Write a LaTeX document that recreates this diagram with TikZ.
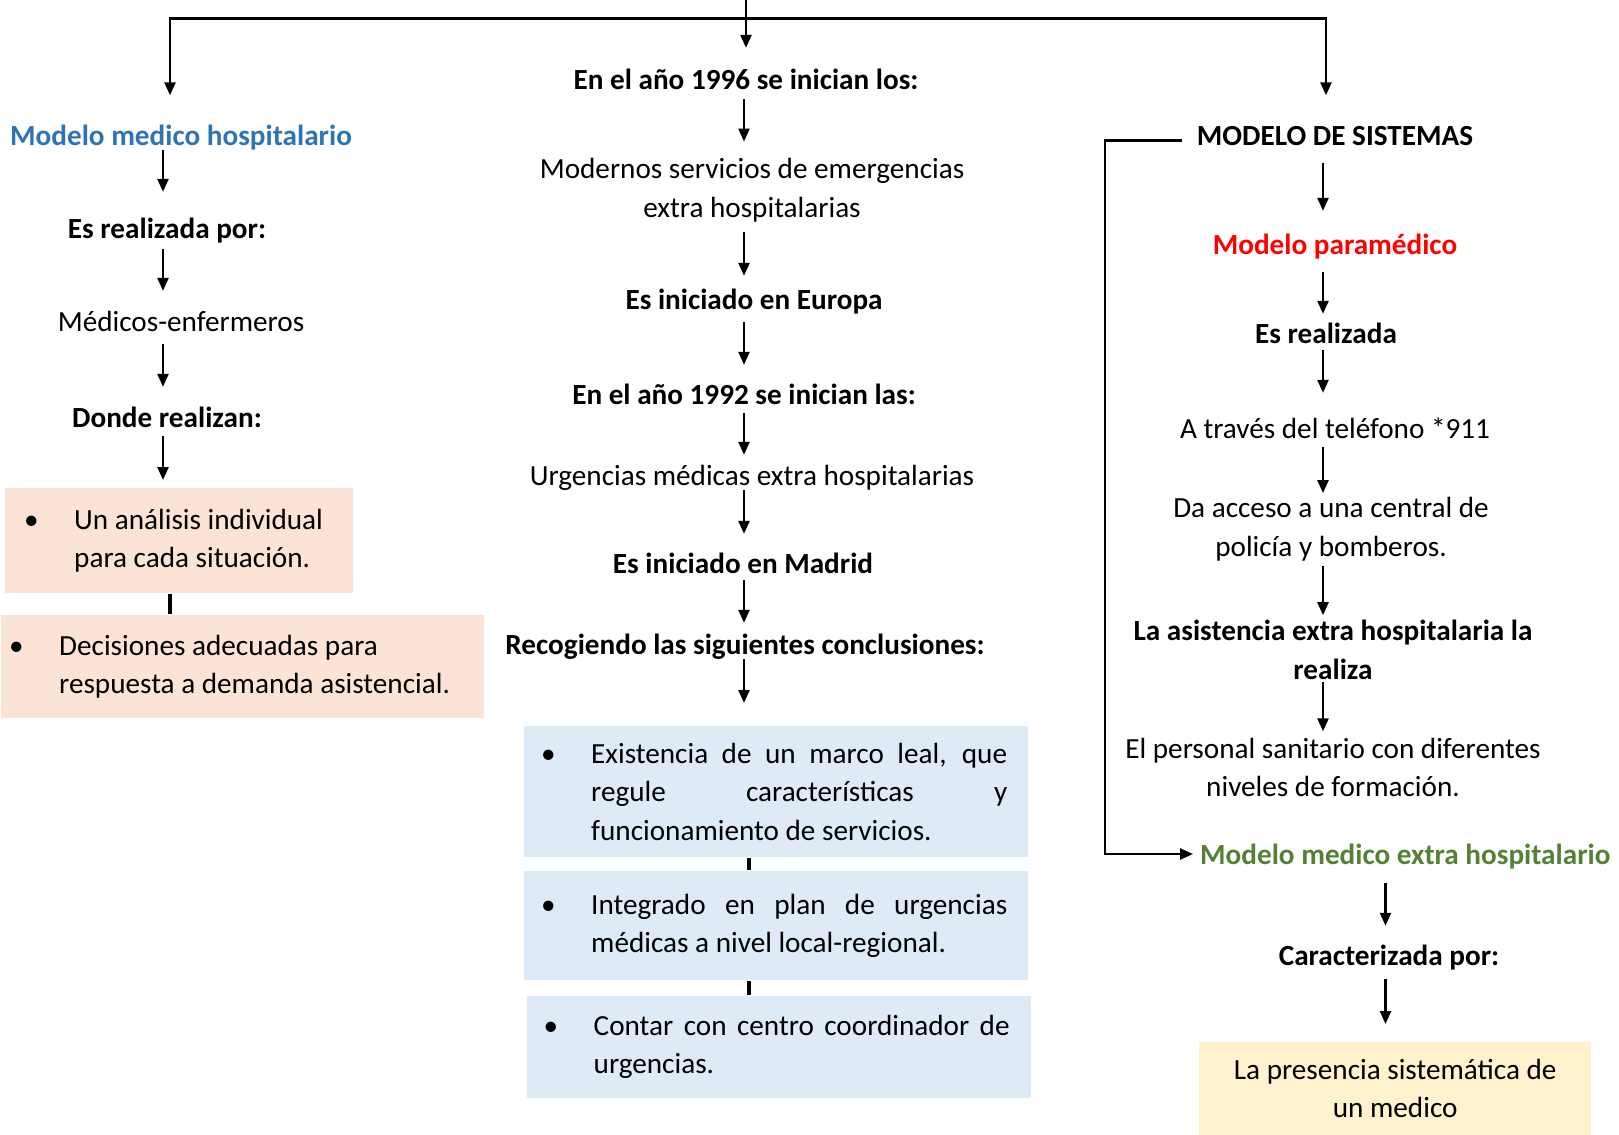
\documentclass[tikz,border=0pt]{standalone}
\usepackage{fontspec}
\setmainfont{Carlito}
\usetikzlibrary{arrows.meta}
\definecolor{hospblue}{HTML}{2E74B5}
\definecolor{extgreen}{HTML}{538135}
\definecolor{peach}{HTML}{FBE4D5}
\definecolor{paleblue}{HTML}{DEEAF6}
\definecolor{paleyellow}{HTML}{FFF2CC}
% bullet item: bullet, then a hanging block of text
\newcommand{\itm}[2]{\makebox[23pt][l]{\hspace{-2pt}\textbullet}\parbox[t]{#1}{\fontsize{14.6}{19.25}\selectfont #2}}

\begin{document}
\begin{tikzpicture}[x=0.5pt,y=-0.5pt,line width=1.2pt,
	>={Triangle[length=6.5pt,width=5.5pt]},
	every node/.style={font=\fontsize{14.6}{19.25}\selectfont},
	txt/.style={inner sep=0pt,text height=12pt,text depth=1.5pt},
	lines/.style={inner sep=0pt,align=flush center},
	bold/.style={font=\fontsize{14.6}{19.25}\selectfont\bfseries},
	box/.style={anchor=north west,inner ysep=0pt,align=flush left},
	link/.style={line width=2pt}]
	\useasboundingbox (0,0) rectangle (1619,1135);
	\coordinate (top) at (746,0);
	\coordinate (fork) at (746,18.6);
	\coordinate (colL) at (163,0);
	\coordinate (colM) at (744,0);
	\coordinate (colR) at (1323,0);
	\coordinate (colE) at (1385.5,0);
	
	% modelo medico hospitalario
	\node[txt,bold,text=hospblue] (l1) at (181,135) {Modelo medico hospitalario};
	\node[txt,bold] (l2) at (167,228) {Es realizada por:};
	\node[txt] (l3) at (181,321) {Médicos-enfermeros};
	\node[txt,bold] (l4) at (167,417) {Donde realizan:};
	\node[box,fill=peach,inner xsep=11.5pt,text width=151pt,minimum height=52.5pt] (b1) at (4,487)
		{\itm{128pt}{\raggedright Un análisis individual\\para cada situación.}};
	\node[box,fill=peach,inner xsep=6pt,text width=229.5pt,minimum height=51.5pt] (b2) at (0,614)
		{\itm{206.5pt}{\raggedright Decisiones adecuadas para\\respuesta a demanda asistencial.}};
	
	% columna central
	\node[txt,bold] (m1) at (746,78.5) {En el año 1996 se inician los:};
	\node[lines] (m2) at (752,190) {Modernos servicios de emergencias\\extra hospitalarias};
	\node[txt,bold] (m3) at (754,299) {Es iniciado en Europa};
	\node[txt,bold] (m4) at (744,394) {En el año 1992 se inician las:};
	\node[txt] (m5) at (752,475) {Urgencias médicas extra hospitalarias};
	\node[txt,bold] (m6) at (743,563) {Es iniciado en Madrid};
	\node[txt,bold] (m7) at (745,644) {Recogiendo las siguientes conclusiones:};
	\node[box,fill=paleblue,inner xsep=10.5pt,text width=231pt,minimum height=65.5pt] (c1) at (523,725)
		{\itm{208pt}{Existencia de un marco leal, que\linebreak regule características y\linebreak funcionamiento de servicios.}};
	\node[box,fill=paleblue,inner xsep=10.5pt,text width=231pt,minimum height=54.5pt] (c2) at (523,870)
		{\itm{208pt}{Integrado en plan de urgencias\linebreak médicas a nivel local-regional.}};
	\node[box,fill=paleblue,inner xsep=10.5pt,text width=231pt,minimum height=50.75pt] (c3) at (525.5,995)
		{\itm{208pt}{Contar con centro coordinador de\linebreak urgencias.}};
	
	% modelo de sistemas
	\node[txt,bold] (r1) at (1335,135) {MODELO DE SISTEMAS};
	\node[txt,bold,text=red] (r2) at (1335,244) {Modelo paramédico};
	\node[txt,bold] (r3) at (1326,332.5) {Es realizada};
	\node[txt] (r4) at (1335,427.5) {A través del teléfono *911};
	\node[lines] (r5) at (1331,529) {Da acceso a una central de\\policía y bomberos.};
	\node[lines,bold] (r6) at (1333,650) {La asistencia extra hospitalaria la\\realiza};
	\node[lines] (r7) at (1333,767.5) {El personal sanitario con diferentes\\niveles de formación.};
	\node[txt,bold,text=extgreen,anchor=west] (e1) at (1199,854) {Modelo medico extra hospitalario};
	\node[txt,bold] (e2) at (1389,955) {Caracterizada por:};
	\node[box,fill=paleyellow,inner xsep=0pt,text width=196pt,minimum height=46.5pt,align=flush center] (y1) at (1198,1041)
		{La presencia sistemática de\\un medico};
	
	\draw[->,shorten >=8pt] (top) -- (m1.north);
	\draw[->,shorten >=12.5pt] (fork) -| ([xshift=-5.5pt]l1.north);
	\draw[->,shorten >=12.5pt] (fork) -| ([xshift=-4.5pt]r1.north);
	\foreach \a/\b/\c/\s/\t in {l1/l2/colL/0/10.75,l2/l3/colL/3.25/7.75,l3/l4/colL/4.25/7.75,l4/b1/colL/2.25/3.5,
		m1/m2/colM/3/7.75,m2/m3/colM/4.5/4.25,m3/m4/colM/4.25/7.25,m4/m5/colM/2.25/2.75,
		m5/m6/colM/0.25/7.25,m6/m7/colM/1.25/3.25,m7/c1/colM/0.25/11,
		r1/r2/colR/6.75/9.25,r2/r3/colR/6.5/2,r3/r4/colR/1.5/10,r4/r5/colR/2.5/1.5,
		r5/r6/colR/2/2,r6/r7/colR/0.75/2.75,
		e1/e2/colE/7.25/7.25,e2/y1/colE/4.75/8.5}
	{\draw[->,shorten <=\s pt,shorten >=\t pt] (\a.south -| \c) -- (\b.north -| \c);}
	\draw[->,shorten <=7pt,shorten >=3pt] ([yshift=-2.75pt]r1.west) -- ++(-91,0) |- (e1.west);
	
	\coordinate (k1) at ([xshift=-4.5pt]b1.south);
	\coordinate (k2) at ([xshift=-13.75pt]c1.south);
	\coordinate (k3) at ([xshift=-13.75pt]c2.south);
	\draw[link] (k1) -- (k1 |- b2.north);
	\draw[link] (k2) -- (k2 |- c2.north);
	\draw[link] (k3) -- (k3 |- c3.north);
\end{tikzpicture}
\end{document}
